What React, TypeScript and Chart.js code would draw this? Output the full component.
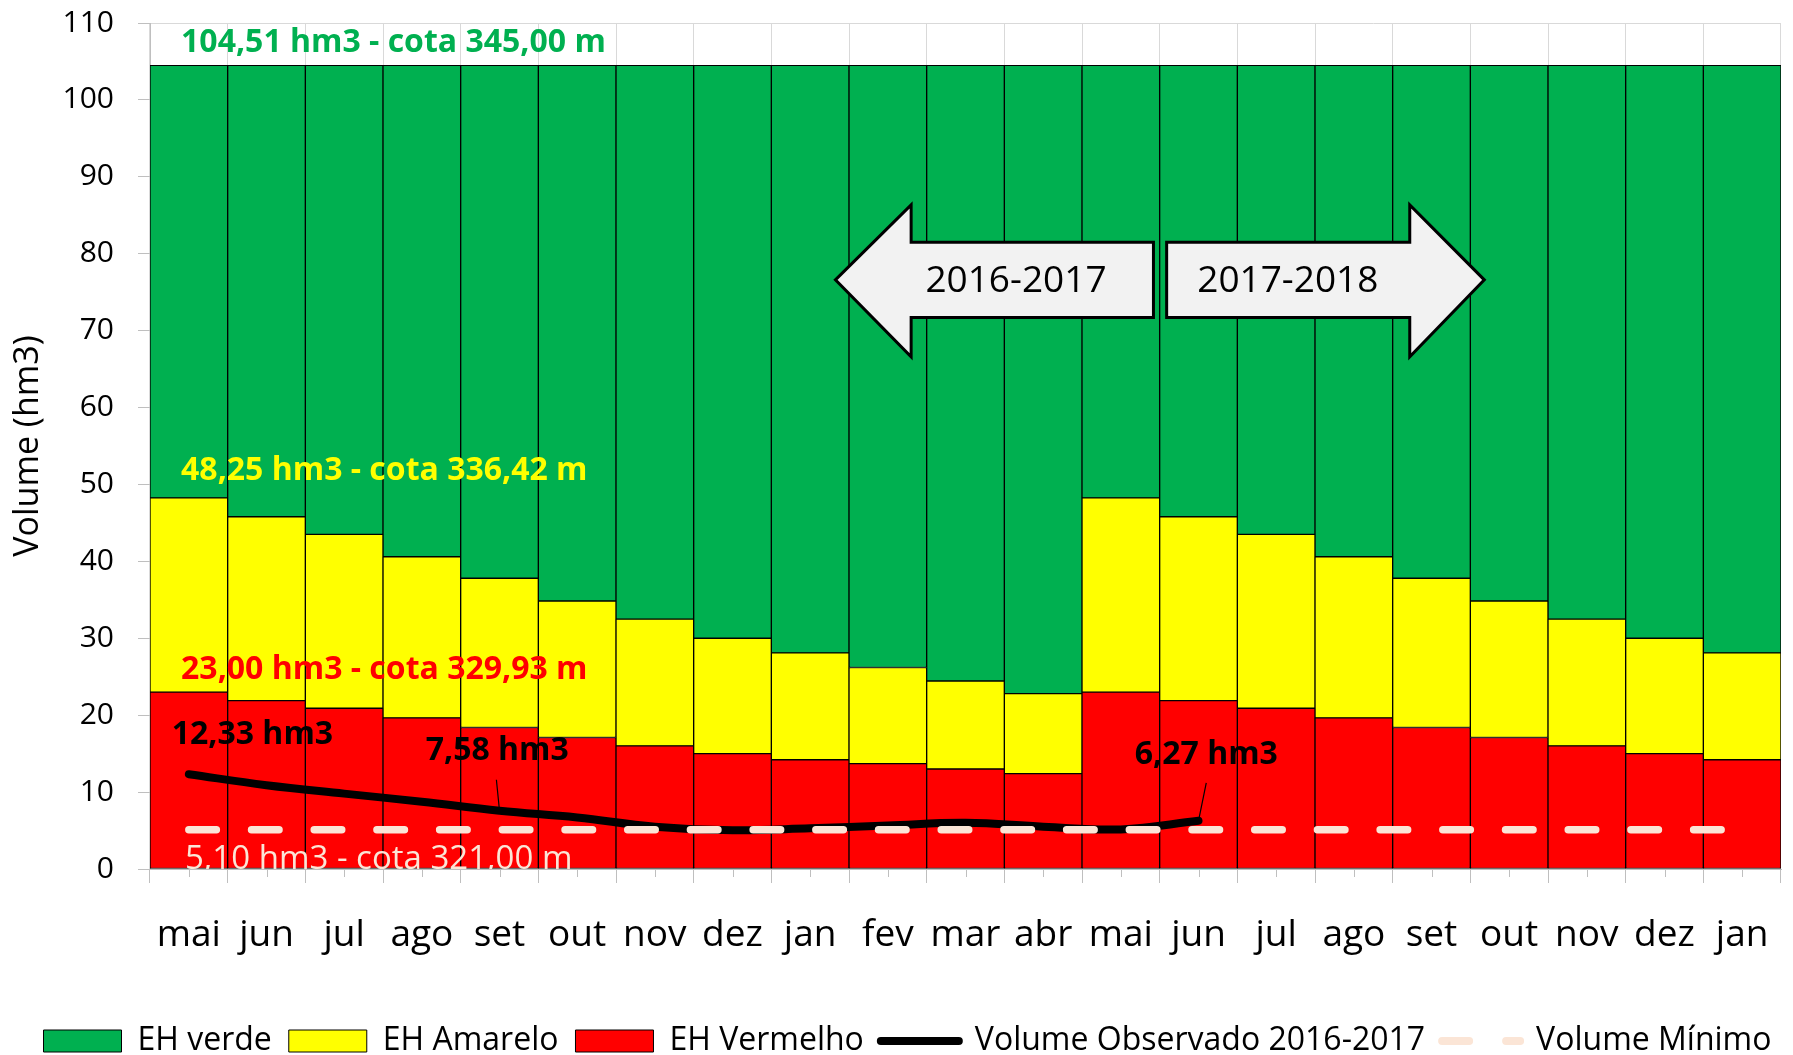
import React, { useEffect, useRef } from 'react';
import { Chart, registerables } from 'chart.js';

Chart.register(...registerables);

// ---------------- data ----------------
const months = ['mai', 'jun', 'jul', 'ago', 'set', 'out', 'nov', 'dez', 'jan', 'fev', 'mar', 'abr',
  'mai', 'jun', 'jul', 'ago', 'set', 'out', 'nov', 'dez', 'jan'];

// upper limit of the red band (hm3)
const redLimit = [23.0, 21.9, 20.9, 19.65, 18.4, 17.1, 16.0, 15.0, 14.2, 13.7, 13.0, 12.4,
  23.0, 21.9, 20.9, 19.65, 18.4, 17.1, 16.0, 15.0, 14.2];
// upper limit of the yellow band (hm3)
const yellowLimit = [48.25, 45.8, 43.5, 40.6, 37.8, 34.85, 32.5, 30.0, 28.1, 26.2, 24.45, 22.8,
  48.25, 45.8, 43.5, 40.6, 37.8, 34.85, 32.5, 30.0, 28.1];
// upper limit of the green band (full reservoir, hm3)
const greenLimit = [104.51, 104.51, 104.51, 104.51, 104.51, 104.51, 104.51, 104.51, 104.51, 104.51, 104.51, 104.51,
  104.51, 104.51, 104.51, 104.51, 104.51, 104.51, 104.51, 104.51, 104.51];
// observed volume 2016-2017 (hm3)
const observedVolume = [12.33, 10.9, 9.8, 8.75, 7.58, 6.7, 5.5, 5.05, 5.3, 5.65, 6.0, 5.5, 5.15, 6.27,
  null, null, null, null, null, null, null];
// minimum volume (hm3)
const minimumVolume = [5.1, 5.1, 5.1, 5.1, 5.1, 5.1, 5.1, 5.1, 5.1, 5.1, 5.1, 5.1,
  5.1, 5.1, 5.1, 5.1, 5.1, 5.1, 5.1, 5.1, 5.1];

const yTickMin = 0;
const yTickMax = 110;
const yTickStep = 10;
const yAxisTitle = 'Volume (hm3)';

// ---------------- styles ----------------
const FONT = "'Open Sans', 'Noto Sans', sans-serif";
const GREEN = '#00B050';
const YELLOW = '#FFFF00';
const RED = '#FF0000';
const PEACH = '#FBE5D6';

const redBand = redLimit.map((v) => v);
const yellowBand = yellowLimit.map((v, i) => +(v - redLimit[i]).toFixed(3));
const greenBand = greenLimit.map((v, i) => +(v - yellowLimit[i]).toFixed(3));

const overlayPlugin = {
  id: 'overlay',
  afterLayout(chart: any) {
    // nudge the legend slightly to the right, as in the original
    const lg = chart.legend;
    if (lg) {
      lg.left += 17;
      lg.right += 17;
    }
  },
  afterDatasetsDraw(chart: any) {
    const { ctx, chartArea, scales } = chart;
    const x = scales.x;
    const y = scales.y;
    const xu = (u: number) => x.getPixelForValue(u - 0.5);
    const yv = (v: number) => y.getPixelForValue(v);

    ctx.save();

    // ---- arrows ----
    const drawPoly = (pts: number[][]) => {
      ctx.beginPath();
      pts.forEach((p, i) => (i === 0 ? ctx.moveTo(p[0], p[1]) : ctx.lineTo(p[0], p[1])));
      ctx.closePath();
      ctx.fillStyle = '#F2F2F2';
      ctx.fill();
      ctx.lineWidth = 3;
      ctx.lineJoin = 'miter';
      ctx.strokeStyle = '#000';
      ctx.stroke();
    };
    const hTop = 86.35, bTop = 81.5, mid = 76.6, bBot = 71.7, hBot = 66.6;
    drawPoly([
      [xu(8.825), yv(mid)], [xu(9.8), yv(hTop)], [xu(9.8), yv(bTop)], [xu(12.92), yv(bTop)],
      [xu(12.92), yv(bBot)], [xu(9.8), yv(bBot)], [xu(9.8), yv(hBot)],
    ]);
    drawPoly([
      [xu(13.09), yv(bTop)], [xu(16.22), yv(bTop)], [xu(16.22), yv(hTop)], [xu(17.18), yv(mid)],
      [xu(16.22), yv(hBot)], [xu(16.22), yv(bBot)], [xu(13.09), yv(bBot)],
    ]);
    ctx.fillStyle = '#000';
    ctx.font = `37px ${FONT}`;
    ctx.textAlign = 'center';
    ctx.textBaseline = 'middle';
    ctx.fillText('2016-2017', xu(11.15), yv(76.4));
    ctx.fillText('2017-2018', xu(14.65), yv(76.4));

    // ---- band labels ----
    ctx.textAlign = 'left';
    ctx.font = `bold 32px ${FONT}`;
    ctx.fillStyle = GREEN;
    ctx.fillText('104,51 hm3 - cota 345,00 m', xu(0.4), yv(107.4));
    ctx.fillStyle = YELLOW;
    ctx.fillText('48,25 hm3 - cota 336,42 m', xu(0.4), yv(51.75));
    ctx.fillStyle = RED;
    ctx.fillText('23,00 hm3 - cota 329,93 m', xu(0.4), yv(25.9));

    // ---- observed labels ----
    ctx.fillStyle = '#000';
    ctx.fillText('12,33 hm3', xu(0.28), yv(17.4));
    ctx.fillText('7,58 hm3', xu(3.55), yv(15.3));
    ctx.fillText('6,27 hm3', xu(12.68), yv(14.8));

    ctx.lineWidth = 1.2;
    ctx.strokeStyle = '#000';
    ctx.beginPath();
    ctx.moveTo(xu(4.46), yv(11.6));
    ctx.lineTo(x.getPixelForValue(4), yv(observedVolume[4] as number));
    ctx.moveTo(xu(13.6), yv(11.2));
    ctx.lineTo(x.getPixelForValue(13), yv(observedVolume[13] as number));
    ctx.stroke();

    // ---- minimum label (clipped to plot) ----
    ctx.save();
    ctx.beginPath();
    ctx.rect(chartArea.left, chartArea.top, chartArea.right - chartArea.left, chartArea.bottom - chartArea.top);
    ctx.clip();
    ctx.fillStyle = PEACH;
    ctx.font = `33px ${FONT}`;
    ctx.fillText('5,10 hm3 - cota 321,00 m', xu(0.45), yv(1.2));
    ctx.restore();

    ctx.restore();
  },
  afterDraw(chart: any) {
    const { ctx, chartArea, scales } = chart;
    const x = scales.x;
    ctx.save();
    // minor ticks at category centres
    ctx.strokeStyle = '#BFBFBF';
    ctx.lineWidth = 1;
    ctx.beginPath();
    for (let i = 0; i < months.length; i++) {
      const px = Math.round(x.getPixelForValue(i)) + 0.5;
      ctx.moveTo(px, chartArea.bottom);
      ctx.lineTo(px, chartArea.bottom + 8);
    }
    ctx.stroke();
    // y axis title
    ctx.translate(28.5, (chartArea.top + chartArea.bottom) / 2);
    ctx.rotate(-Math.PI / 2);
    ctx.fillStyle = '#000';
    ctx.font = `34px ${FONT}`;
    ctx.textAlign = 'center';
    ctx.textBaseline = 'middle';
    ctx.fillText(yAxisTitle, 0, 0);
    ctx.restore();
  },
};

export default function App() {
  const canvasRef = useRef<HTMLCanvasElement | null>(null);

  useEffect(() => {
    document.body.style.margin = '0';
    const canvas = canvasRef.current;
    if (!canvas) return;

    const barCommon = {
      type: 'bar' as const,
      borderColor: '#000',
      borderWidth: 1,
      borderSkipped: false,
      barPercentage: 1,
      categoryPercentage: 1,
      stack: 'bands',
    };

    const chart = new Chart(canvas, {
      type: 'bar',
      data: {
        labels: months,
        datasets: [
          { ...barCommon, label: 'EH Vermelho', data: redBand, backgroundColor: RED, order: 2 },
          { ...barCommon, label: 'EH Amarelo', data: yellowBand, backgroundColor: YELLOW, order: 3 },
          { ...barCommon, label: 'EH verde', data: greenBand, backgroundColor: GREEN, order: 4 },
          {
            type: 'line',
            label: 'Volume Observado 2016-2017',
            data: observedVolume,
            borderColor: '#000',
            backgroundColor: '#000',
            borderWidth: 8,
            borderCapStyle: 'round',
            borderJoinStyle: 'round',
            pointRadius: 0,
            tension: 0.4,
            spanGaps: false,
            stack: 'obs',
            order: 1,
          } as any,
          {
            type: 'line',
            label: 'Volume Mínimo',
            data: minimumVolume,
            borderColor: PEACH,
            backgroundColor: PEACH,
            borderWidth: 7.5,
            borderCapStyle: 'round',
            borderDash: [27.5, 35.2],
            pointRadius: 0,
            stack: 'min',
            order: 0,
          } as any,
        ],
      },
      options: {
        responsive: false,
        animation: false,
        devicePixelRatio: 1,
        layout: { padding: { top: 23, right: 12, bottom: -12, left: 0 } },
        plugins: {
          tooltip: { enabled: false },
          legend: {
            position: 'bottom',
            labels: {
              usePointStyle: true,
              pointStyleWidth: 78,
              boxHeight: 22,
              padding: 17,
              color: '#000',
              font: { family: FONT, size: 32 },
              generateLabels: () => [
                { text: 'EH verde', fillStyle: GREEN, strokeStyle: '#000', lineWidth: 1, pointStyle: 'rect', datasetIndex: 2 },
                { text: 'EH Amarelo', fillStyle: YELLOW, strokeStyle: '#000', lineWidth: 1, pointStyle: 'rect', datasetIndex: 1 },
                { text: 'EH Vermelho', fillStyle: RED, strokeStyle: '#000', lineWidth: 1, pointStyle: 'rect', datasetIndex: 0 },
                { text: 'Volume Observado 2016-2017', fillStyle: 'rgba(0,0,0,0)', strokeStyle: '#000', lineWidth: 8, lineCap: 'round', pointStyle: 'line', datasetIndex: 3 },
                { text: 'Volume Mínimo', fillStyle: 'rgba(0,0,0,0)', strokeStyle: PEACH, lineWidth: 8, lineCap: 'round', lineDash: [27, 37], pointStyle: 'line', datasetIndex: 4 },
              ] as any,
            },
          },
        },
        scales: {
          x: {
            stacked: true,
            offset: true,
            grid: { offset: true, color: '#D9D9D9', tickColor: '#BFBFBF', tickLength: 14, drawTicks: true },
            border: { display: true, color: '#BFBFBF' },
            ticks: {
              autoSkip: false,
              maxRotation: 0,
              padding: 30,
              color: '#000',
              font: { family: FONT, size: 37 },
            },
            afterFit: (scale: any) => {
              scale.height = 139;
              scale.paddingLeft = 0;
              scale.paddingRight = 0;
            },
          },
          y: {
            stacked: true,
            min: yTickMin,
            max: yTickMax,
            grid: {
              color: (c: any) => (c.tick && c.tick.value === yTickMax ? '#D9D9D9' : 'rgba(0,0,0,0)'),
              tickColor: '#BFBFBF',
              tickLength: 12,
            },
            border: { display: true, color: '#BFBFBF' },
            ticks: {
              stepSize: yTickStep / 2,
              padding: 24,
              color: '#000',
              font: { family: FONT, size: 30 },
              callback: (v: any) => (Number(v) % yTickStep === 0 ? String(v) : ''),
            },
            title: { display: false },
            afterFit: (scale: any) => {
              scale.width = 150;
              scale.paddingTop = 0;
              scale.paddingBottom = 0;
            },
          },
        },
      },
      plugins: [overlayPlugin],
    } as any);

    return () => chart.destroy();
  }, []);

  return (
    <div style={{ position: 'fixed', left: 0, top: 0, width: 1793, height: 1055, background: '#fff' }}>
      <canvas ref={canvasRef} width={1793} height={1055} style={{ width: 1793, height: 1055, display: 'block' }} />
    </div>
  );
}
